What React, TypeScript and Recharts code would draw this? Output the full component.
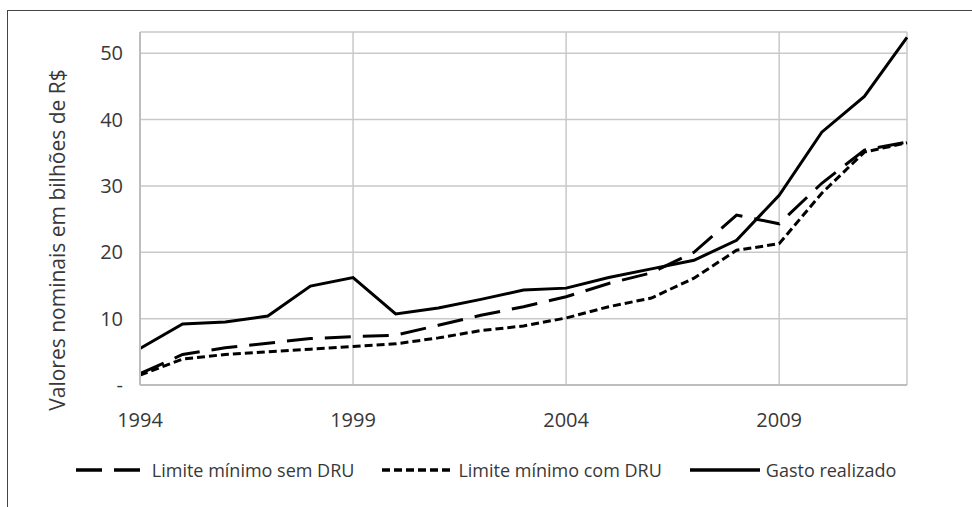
import { LineChart, Line, XAxis, YAxis, CartesianGrid, Legend, Label } from 'recharts';

const years = [1994, 1995, 1996, 1997, 1998, 1999, 2000, 2001, 2002, 2003, 2004, 2005, 2006, 2007, 2008, 2009, 2010, 2011, 2012];
const semDRU = [1.7, 4.6, 5.6, 6.3, 7.0, 7.3, 7.5, 9.0, 10.5, 11.8, 13.3, 15.3, 16.9, 20.0, 25.6, 24.3, 30.4, 35.4, 36.6];
const comDRU = [1.5, 3.9, 4.6, 5.0, 5.4, 5.8, 6.2, 7.1, 8.2, 8.9, 10.1, 11.8, 13.1, 16.1, 20.3, 21.3, 28.9, 35.1, 36.5];
const gasto = [5.5, 9.2, 9.5, 10.4, 14.9, 16.2, 10.7, 11.6, 12.9, 14.3, 14.6, 16.2, 17.5, 18.8, 21.8, 28.6, 38.1, 43.5, 52.4];

const xTicks = [1994, 1999, 2004, 2009];
const yTicks = [0, 10, 20, 30, 40, 50];

const series = [
    { key: 'semDRU', name: 'Limite mínimo sem DRU', dash: '26 12' },
    { key: 'comDRU', name: 'Limite mínimo com DRU', dash: '8 4' },
    { key: 'gasto', name: 'Gasto realizado', dash: undefined as string | undefined },
];

const data = years.map((year, i) => ({
    year,
    semDRU: semDRU[i],
    comDRU: comDRU[i],
    gasto: gasto[i],
}));

const FONT = '"Open Sans", sans-serif';
const TEXT = '#383838';
const GRID = '#c9c9c9';

function ChartLegend() {
    return (
        <div style={{ display: 'flex', justifyContent: 'center', alignItems: 'center', gap: 28, fontFamily: FONT, fontSize: 18, color: TEXT }}>
            {series.map((s) => (
                <div key={s.key} style={{ display: 'flex', alignItems: 'center' }}>
                    <svg width={70} height={10} style={{ marginRight: 6 }}>
                        <line x1={0} y1={5} x2={70} y2={5} stroke="#000" strokeWidth={3.5} strokeDasharray={s.dash} />
                    </svg>
                    <span>{s.name}</span>
                </div>
            ))}
        </div>
    );
}

export default function App() {
    return (
        <div style={{ position: 'absolute', left: 0, top: 0, width: 972, height: 507, background: '#fff' }}>
            <div style={{ position: 'absolute', left: 7, top: 10, right: -10, bottom: -10, borderLeft: '1.5px solid #444', borderTop: '1.5px solid #444' }} />
            <LineChart width={972} height={507} data={data} margin={{ top: 32, right: 65, bottom: 92, left: 40 }}>
                <CartesianGrid stroke={GRID} strokeWidth={1.5} />
                <XAxis
                    dataKey="year"
                    type="number"
                    domain={[1994, 2012]}
                    ticks={xTicks}
                    height={30}
                    tickLine={false}
                    tickSize={0}
                    tickMargin={28}
                    axisLine={{ stroke: '#bdbdbd', strokeWidth: 2 }}
                    tick={{ fill: TEXT, fontSize: 20, fontFamily: FONT }}
                />
                <YAxis
                    width={100}
                    domain={[0, 53.2]}
                    ticks={yTicks}
                    tickLine={false}
                    tickSize={0}
                    tickMargin={17}
                    axisLine={{ stroke: '#bdbdbd', strokeWidth: 2 }}
                    tick={{ fill: TEXT, fontSize: 20, fontFamily: FONT }}
                    tickFormatter={(v: number) => (v === 0 ? '-' : String(v))}
                >
                    <Label
                        content={() => (
                            <text
                                x={57}
                                y={240}
                                transform="rotate(-90, 57, 240)"
                                textAnchor="middle"
                                dominantBaseline="central"
                                fill={TEXT}
                                fontSize={21}
                                fontFamily={FONT}
                            >
                                Valores nominais em bilhões de R$
                            </text>
                        )}
                    />
                </YAxis>
                {series.map((s) => (
                    <Line
                        key={s.key}
                        type="linear"
                        dataKey={s.key}
                        name={s.name}
                        stroke="#000"
                        strokeWidth={3}
                        strokeDasharray={s.dash}
                        dot={false}
                        isAnimationActive={false}
                    />
                ))}
                <Legend
                    verticalAlign="middle"
                    align="center"
                    layout="horizontal"
                    content={() => <ChartLegend />}
                    wrapperStyle={{ left: 0, top: 458, width: 972 }}
                />
            </LineChart>
        </div>
    );
}
